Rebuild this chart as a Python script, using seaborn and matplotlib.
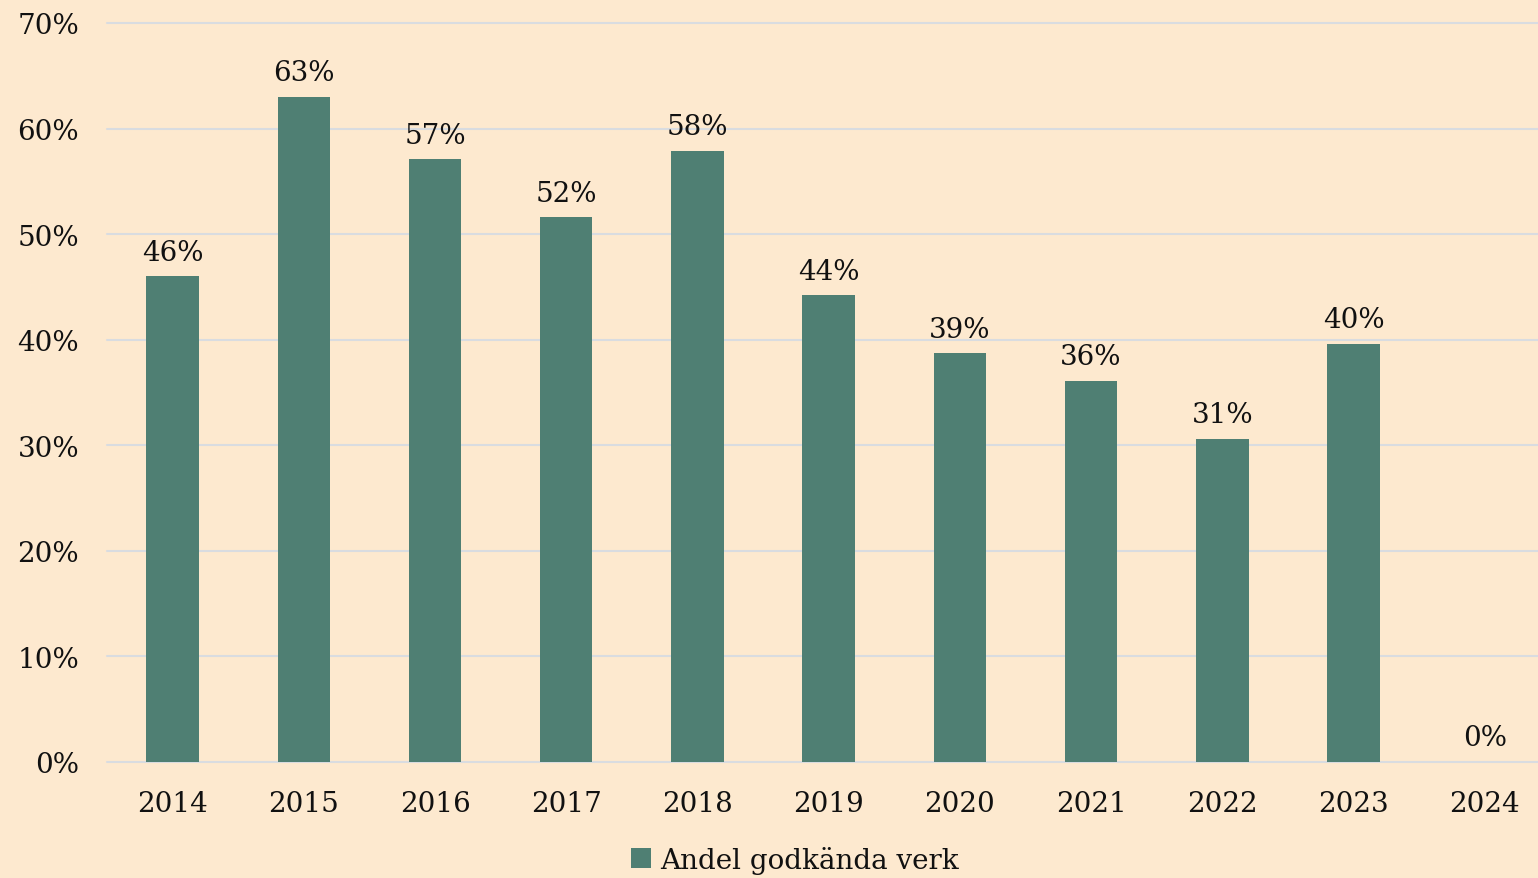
import matplotlib.pyplot as plt
import seaborn as sns
import pandas as pd
from matplotlib.patches import Patch
from matplotlib.ticker import PercentFormatter

years = ['2014', '2015', '2016', '2017', '2018', '2019', '2020', '2021', '2022', '2023', '2024']
share = [46.0, 63.0, 57.1, 51.6, 57.9, 44.2, 38.7, 36.1, 30.6, 39.6, 0.0]
series_name = 'Andel godkända verk'

bg = '#FDE9CF'
bar_color = '#4F7F73'
grid_color = '#D9DCE0'
text_color = '#111111'

df = pd.DataFrame({'year': years, 'share': share})

sns.set_theme(style='white')
plt.rcParams['font.family'] = ['DejaVu Serif']

fig = plt.figure(figsize=(15.38, 8.79), dpi=100, facecolor=bg)
ax = fig.add_axes([107 / 1538, 1 - 763 / 879, 1 - 107 / 1538 + 0.008, (763 - 24) / 879])
ax.set_facecolor(bg)

sns.barplot(data=df, x='year', y='share', color=bar_color, width=0.4,
            saturation=1, linewidth=0, edgecolor='none', ax=ax, zorder=3)

# value labels above each bar
for i, v in enumerate(share):
    ax.text(i, v + 1.0, f'{v:.0f}%', ha='center', va='bottom',
            fontsize=20, color=text_color)

ax.set_ylim(0, 70)
ax.set_xlim(-0.5, len(years) - 0.5)
ax.set_yticks(range(0, 71, 10))
ax.yaxis.set_major_formatter(PercentFormatter(decimals=0))
ax.yaxis.grid(True, color=grid_color, linewidth=1.5, zorder=0)
for gl in ax.get_ygridlines():
    gl.set_clip_on(False)
ax.set_axisbelow(True)
ax.set_xlabel('')
ax.set_ylabel('')
for s in ax.spines.values():
    s.set_visible(False)
ax.tick_params(axis='both', length=0, labelsize=20, colors=text_color)
ax.tick_params(axis='x', pad=20)
ax.tick_params(axis='y', pad=20)

handle = Patch(facecolor=bar_color, edgecolor='none', linewidth=0, label=series_name)
leg = fig.legend(handles=[handle], loc='center', bbox_to_anchor=(0.5166, 1 - 861 / 879),
                 frameon=False, fontsize=20, handlelength=0.75, handleheight=0.75,
                 handletextpad=0.3)
for t in leg.get_texts():
    t.set_color(text_color)

fig.savefig('out.png', dpi=100, facecolor=bg)
